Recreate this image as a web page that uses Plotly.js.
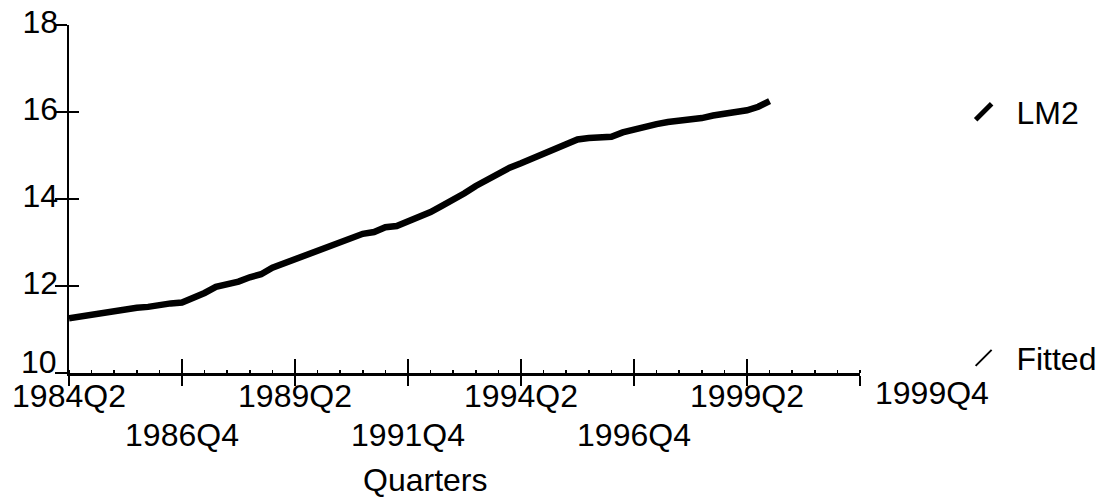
<!DOCTYPE html>
<html>
<head>
<meta charset="utf-8">
<script src="https://cdn.plot.ly/plotly-3.0.1.min.js"></script>
<style>html,body{margin:0;padding:0;background:#fff;}#chart{width:1114px;height:502px;}</style>
</head>
<body>
<div id="chart"></div>
<script>
// Quarter index 0 = 1984Q2, one step per quarter, last = 1999Q4
var quarterLabels = ['1984Q2','1984Q3','1984Q4','1985Q1','1985Q2','1985Q3','1985Q4','1986Q1','1986Q2','1986Q3',
  '1986Q4','1987Q1','1987Q2','1987Q3','1987Q4','1988Q1','1988Q2','1988Q3','1988Q4','1989Q1',
  '1989Q2','1989Q3','1989Q4','1990Q1','1990Q2','1990Q3','1990Q4','1991Q1','1991Q2','1991Q3',
  '1991Q4','1992Q1','1992Q2','1992Q3','1992Q4','1993Q1','1993Q2','1993Q3','1993Q4','1994Q1',
  '1994Q2','1994Q3','1994Q4','1995Q1','1995Q2','1995Q3','1995Q4','1996Q1','1996Q2','1996Q3',
  '1996Q4','1997Q1','1997Q2','1997Q3','1997Q4','1998Q1','1998Q2','1998Q3','1998Q4','1999Q1',
  '1999Q2','1999Q3','1999Q4'];

var lm2 = [11.26,11.30,11.34,11.40,11.45,11.49,11.50,11.52,11.57,11.60,
  11.62,11.72,11.84,11.98,12.03,12.10,12.20,12.27,12.42,12.52,
  12.64,12.73,12.84,12.94,13.03,13.12,13.20,13.24,13.35,13.38,
  13.48,13.56,13.70,13.84,13.97,14.13,14.30,14.45,14.60,14.72,
  14.82,14.93,15.02,15.12,15.25,15.37,15.40,15.41,15.43,15.53,
  15.60,15.66,15.72,15.77,15.79,15.82,15.86,15.92,15.96,15.99,
  16.04,16.12,16.25];

var fitted = [11.27,11.31,11.35,11.40,11.44,11.48,11.50,11.53,11.57,11.60,
  11.64,11.73,11.84,11.96,12.04,12.11,12.20,12.29,12.41,12.52,
  12.63,12.73,12.84,12.94,13.03,13.11,13.19,13.26,13.33,13.40,
  13.48,13.58,13.70,13.84,13.98,14.13,14.29,14.44,14.58,14.71,
  14.82,14.92,15.02,15.13,15.25,15.35,15.40,15.42,15.46,15.53,
  15.60,15.66,15.71,15.76,15.80,15.83,15.87,15.92,15.96,16.00,
  16.05,16.12,16.22];

var yTicks = [10,12,14,16,18];
var yTickText = ['','12','14','16','18'];   // "10" is drawn raised, as in the reference
var yBottomLabel = '10';
var xTickIdx = [0,10,20,30,40,50,60,70];
var xTickRow1 = ['1984Q2','','1989Q2','','1994Q2','','1999Q2',''];
var xTickRow2 = ['','1986Q4','','1991Q4','','1996Q4','',''];
var endLabel = '1999Q4';
var xTitle = 'Quarters';
var seriesNames = ['LM2','Fitted'];

var qIdx = quarterLabels.map(function(_, i){ return i; });
var FONT = 'Liberation Sans, Arial, sans-serif';
var PAD = '\u2009\u2009';

var traces = [
  {x: qIdx, y: fitted, mode: 'lines', line: {color: '#000', width: 1.5}, showlegend: false, hoverinfo: 'skip'},
  {x: qIdx, y: lm2, mode: 'lines', line: {color: '#000', width: 6.5}, showlegend: false, hoverinfo: 'skip'},
  {x: [null], y: [null], mode: 'markers', name: PAD + seriesNames[0], legend: 'legend',
   marker: {symbol: 'line-ne', size: 16, color: '#000', line: {color: '#000', width: 5}}},
  {x: [null], y: [null], mode: 'markers', name: PAD + seriesNames[1], legend: 'legend2',
   marker: {symbol: 'line-ne', size: 16, color: '#000', line: {color: '#000', width: 2}}},
  {x: [null], y: [null], xaxis: 'x2', yaxis: 'y2', mode: 'markers', showlegend: false, hoverinfo: 'skip'}
];

var layout = {
  width: 1114, height: 502,
  margin: {l: 69, r: 251, t: 25, b: 129},
  paper_bgcolor: '#fff', plot_bgcolor: '#fff',
  font: {family: FONT, size: 32, color: '#000'},
  showlegend: true,
  xaxis: {
    range: [0, 70], tickvals: xTickIdx, ticktext: xTickRow1,
    showline: true, linecolor: '#000', linewidth: 2.5,
    ticks: 'outside', ticklen: 10, tickwidth: 2, tickcolor: '#000',
    ticklabelstandoff: -17,
    showgrid: false, zeroline: false, fixedrange: true,
    tickfont: {size: 32, family: FONT},
    minor: {dtick: 2, tick0: 0, ticks: 'inside', ticklen: 3, tickwidth: 1.5, tickcolor: '#000', showgrid: false}
  },
  xaxis2: {
    range: [0, 70], overlaying: 'x', anchor: 'y2', side: 'bottom',
    tickvals: xTickIdx, ticktext: xTickRow2,
    showline: false, ticks: 'inside', ticklen: 14, tickwidth: 2, tickcolor: '#000',
    ticklabelstandoff: 40,
    showgrid: false, zeroline: false, fixedrange: true,
    tickfont: {size: 32, family: FONT}
  },
  yaxis: {
    range: [10, 18], tickvals: yTicks, ticktext: yTickText,
    showline: true, linecolor: '#000', linewidth: 2.5,
    ticks: 'outside', ticklen: 12, tickwidth: 2, tickcolor: '#000',
    ticklabelstandoff: -10, ticklabelshift: -3,
    showgrid: false, zeroline: false, fixedrange: true,
    tickfont: {size: 32, family: FONT}
  },
  yaxis2: {
    range: [10, 18], overlaying: 'y', anchor: 'x2', side: 'left',
    tickvals: yTicks, showticklabels: false,
    showline: false, ticks: 'inside', ticklen: 10, tickwidth: 2, tickcolor: '#000',
    showgrid: false, zeroline: false, fixedrange: true
  },
  legend: {x: 1.131, xanchor: 'left', y: 0.75, yanchor: 'middle',
    bgcolor: 'rgba(0,0,0,0)', font: {size: 32, family: FONT}},
  legend2: {x: 1.131, xanchor: 'left', y: 0.043, yanchor: 'middle',
    bgcolor: 'rgba(0,0,0,0)', font: {size: 32, family: FONT}},
  annotations: [
    {text: yBottomLabel, xref: 'paper', yref: 'paper', x: -0.0126, y: 0.0316,
     xanchor: 'right', yanchor: 'middle', showarrow: false, font: {size: 32, family: FONT}},
    {text: endLabel, xref: 'paper', yref: 'paper', x: 1.0907, y: -0.0575,
     xanchor: 'center', yanchor: 'middle', showarrow: false, font: {size: 32, family: FONT}},
    {text: xTitle, xref: 'paper', yref: 'paper', x: 0.4496, y: -0.307,
     xanchor: 'center', yanchor: 'middle', showarrow: false, font: {size: 32, family: FONT}}
  ]
};

Plotly.newPlot('chart', traces, layout, {staticPlot: true, displayModeBar: false});
</script>
</body>
</html>
